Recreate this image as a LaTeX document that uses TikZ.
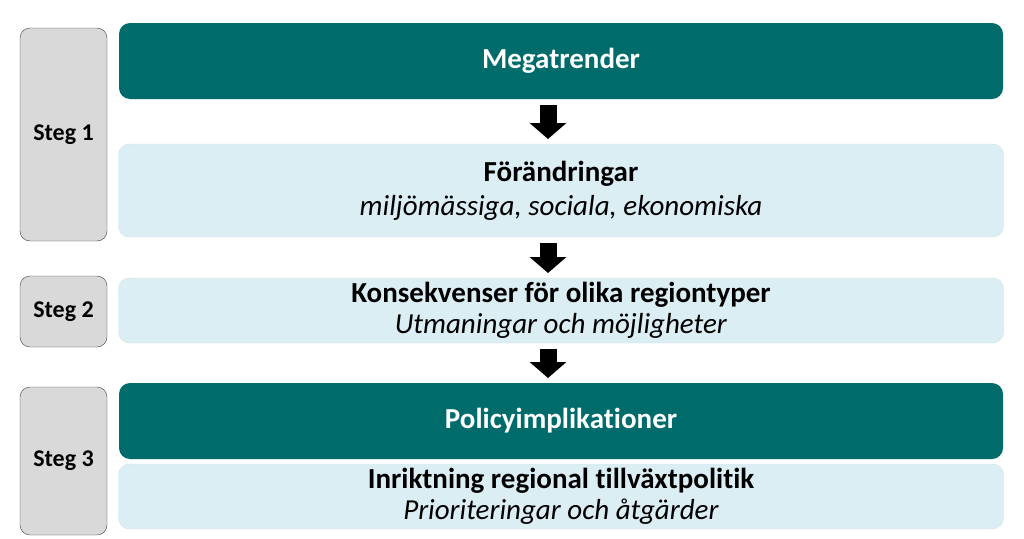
\documentclass[tikz,border=0pt]{standalone}
\usepackage{fontspec}
\setmainfont{Carlito}[Ligatures=NoCommon]
\usepackage{tikz}
\usetikzlibrary{positioning}
\usetikzlibrary{arrows.meta}
\usepackage{xcolor}
\definecolor{trendteal}{HTML}{006B6B}
\definecolor{paleaqua}{HTML}{DBEEF3}
\definecolor{paleedge}{HTML}{CFE2E7}
\definecolor{steggray}{HTML}{D9D9D9}
\definecolor{stegedge}{HTML}{404040}

\begin{document}
\begin{tikzpicture}[x=1pt,y=1pt,
    dark/.style = {fill=trendteal, rounded corners=11pt, minimum width=884pt, text=white,
        font=\bfseries\fontsize{29}{31}\selectfont, inner sep=0pt, outer sep=0pt},
    light/.style = {fill=paleaqua, draw=paleedge, rounded corners=11pt, minimum width=885pt,
        align=center, font=\fontsize{29}{31}\selectfont, inner sep=0pt, outer sep=0pt},
    stegbox/.style = {draw=stegedge, fill=steggray, rounded corners=10pt, minimum width=87pt,
        font=\bfseries\fontsize{24}{28}\selectfont, inner sep=0pt, outer sep=0pt},
    down/.style = {line width=17pt, -{Triangle[length=16pt,width=36pt]},
        shorten <=6pt, shorten >=5pt}]
    \useasboundingbox (0,0) rectangle (1024,-538);
    % main column
    \node[dark, minimum height=76pt] (mega) at (561,-61) {Megatrender};
    \node[light, minimum height=93pt, below=45pt of mega] (foer)
        {\textbf{Förändringar}\\[3pt]\textit{miljömässiga, sociala, ekonomiska}};
    \node[light, minimum height=65pt, below=41pt of foer] (kons)
        {\textbf{Konsekvenser för olika regiontyper}\\\textit{Utmaningar och möjligheter}};
    \node[dark, minimum height=76pt, below=40pt of kons] (policy) {Policyimplikationer};
    \node[light, minimum height=65pt, below=5pt of policy] (inrikt)
        {\textbf{Inriktning regional tillväxtpolitik}\\\textit{Prioriteringar och åtgärder}};
    % steps
    \node[stegbox, minimum height=213pt] (steg1) at (63.5,-134.5) {Steg 1};
    \node[stegbox, minimum height=71pt] (steg2) at (63.5,-311.5) {Steg 2};
    \node[stegbox, minimum height=148pt] (steg3) at (63.5,-461) {Steg 3};
    % arrows
    \draw[down] ([xshift=-13pt]mega.south) -- ([xshift=-13pt]foer.north);
    \draw[down] ([xshift=-13pt]foer.south) -- ([xshift=-13pt]kons.north);
    \draw[down] ([xshift=-13pt]kons.south) -- ([xshift=-13pt]policy.north);
\end{tikzpicture}
\end{document}
